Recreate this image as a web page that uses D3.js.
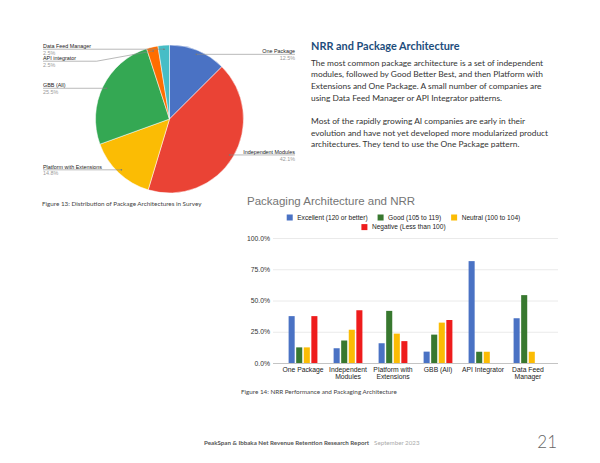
<!DOCTYPE html>
<html lang="en">
  <head>
    <meta charset="UTF-8" />
    <title>Package Architecture and NRR</title>
    <script src="https://cdn.jsdelivr.net/npm/d3@7/dist/d3.min.js"></script>
    <style>
      body { margin: 0; background: #fff; }
    </style>
  </head>
  <body>
    <script>
      // pie: distribution of package architectures
      const pieLabels = ["One Package", "Independent Modules", "Platform with Extensions", "GBB (All)", "API integrator", "Data Feed Manager"];
      const pieValues = [12.5, 42.1, 14.8, 25.5, 2.5, 2.5];

      // bars: NRR by architecture
      const categories = ["One Package", "Independent Modules", "Platform with Extensions", "GBB (All)", "API Integrator", "Data Feed Manager"];
      const seriesNames = ["Excellent (120 or better)", "Good (105 to 119)", "Neutral (100 to 104)", "Negative (Less than 100)"];
      const excellent = [37.5, 11.8, 15.8, 9.1, 81.5, 35.8];
      const good = [12.5, 18.0, 41.7, 22.7, 9.0, 54.3];
      const neutral = [12.5, 26.6, 23.5, 32.3, 9.0, 9.0];
      const negative = [37.5, 42.2, 17.5, 34.4, 0, 0];
      const yTicks = [0, 25, 50, 75, 100];

      const paragraphs = [
        ["The most common package architecture is a set of independent",
         "modules, followed by Good Better Best, and then Platform with",
         "Extensions and One Package. A small number of companies are",
         "using Data Feed Manager or API Integrator patterns."],
        ["Most of the rapidly growing AI companies are early in their",
         "evolution and have not yet developed more modularized product",
         "architectures. They tend to use the One Package pattern."]
      ];

      const width = 600;
      const height = 463;
      const svg = d3.select("body").append("svg")
        .attr("width", width)
        .attr("height", height);

      // ---------- pie ----------
      const pieColor = d3.scaleOrdinal()
        .domain(pieLabels)
        .range(["#4a72c4", "#ea4335", "#fbbc04", "#34a853", "#ff6d01", "#46bdc6"]);
      const cx = 169.5, cy = 119, R = 74;
      const pie = d3.pie().sort(null).value(d => d.v);
      const arcs = pie(pieLabels.map((l, i) => ({ l, v: pieValues[i] })));
      const arc = d3.arc().innerRadius(0).outerRadius(R);
      const anchorArc = d3.arc().innerRadius(70).outerRadius(70);

      const pieG = svg.append("g").attr("transform", `translate(${cx},${cy})`);
      pieG.selectAll("path").data(arcs).enter().append("path")
        .attr("d", arc)
        .attr("fill", d => pieColor(d.data.l))
        .attr("stroke", "#fff")
        .attr("stroke-width", 0.5);

      // label layout: left / right columns, line at anchor height, pushed apart
      const labels = arcs.map(d => {
        const [ax, ay] = anchorArc.centroid(d);
        const mid = (d.startAngle + d.endAngle) / 2;
        return { d, ax: ax + cx, ay: ay + cy, side: mid > Math.PI ? "left" : "right", ly: ay + cy };
      });
      ["left", "right"].forEach(side => {
        const col = labels.filter(l => l.side === side).sort((a, b) => a.ay - b.ay);
        for (let i = 1; i < col.length; i++) {
          if (col[i].ly - col[i - 1].ly < 12) col[i].ly = col[i - 1].ly + 12;
        }
      });

      const lab = svg.append("g").attr("font-family", "Liberation Sans, Arial, sans-serif");
      labels.forEach(l => {
        const tx = l.side === "left" ? 43 : 295;
        const kneeX = l.side === "left"
          ? l.ax - 5.5 * Math.abs(l.ly - l.ay)
          : l.ax + 5.5 * Math.abs(l.ly - l.ay);
        lab.append("path")
          .attr("d", d3.line()([[tx, l.ly], [kneeX, l.ly], [l.ax, l.ay]]))
          .attr("fill", "none")
          .attr("stroke", "#8a8a8a")
          .attr("stroke-width", 0.6);
        lab.append("circle")
          .attr("cx", l.ax).attr("cy", l.ay).attr("r", 0.8)
          .attr("fill", "#777");
        const anchor = l.side === "left" ? "start" : "end";
        lab.append("text")
          .attr("x", tx).attr("y", l.ly - 1.3)
          .attr("text-anchor", anchor)
          .attr("font-size", 5.4)
          .attr("fill", "#222")
          .text(l.d.data.l);
        lab.append("text")
          .attr("x", tx).attr("y", l.ly + 5.6)
          .attr("text-anchor", anchor)
          .attr("font-size", 5.4)
          .attr("fill", "#9a9a9a")
          .text(d3.format(".1f")(l.d.data.v) + "%");
      });

      // ---------- text block ----------
      svg.append("text")
        .attr("x", 311).attr("y", 50)
        .attr("font-family", "Lato, sans-serif")
        .attr("font-weight", "bold")
        .attr("font-size", 10.9)
        .attr("fill", "#1d4d7c")
        .text("NRR and Package Architecture");

      let py = 65.5;
      paragraphs.forEach((p, pi) => {
        p.forEach(line => {
          svg.append("text")
            .attr("x", 311).attr("y", py)
            .attr("font-family", "Lato, sans-serif")
            .attr("font-size", 8.4)
            .attr("fill", "#333")
            .text(line);
          py += 11.7;
        });
        py += 11.7;
      });

      // captions + footer
      const caption = (x, y, t) => svg.append("text")
        .attr("x", x).attr("y", y)
        .attr("font-family", "Lato, sans-serif")
        .attr("font-size", 6.3)
        .attr("fill", "#444")
        .text(t);
      caption(42, 205.5, "Figure 13: Distribution of Package Architectures in Survey");
      caption(241, 393.5, "Figure 14: NRR Performance and Packaging Architecture");

      const foot = svg.append("text")
        .attr("x", 204).attr("y", 445)
        .attr("font-family", "Lato, sans-serif")
        .attr("font-size", 6.2);
      foot.append("tspan").attr("font-weight", "bold").attr("fill", "#555")
        .text("PeakSpan & Ibbaka Net Revenue Retention Research Report");
      foot.append("tspan").attr("fill", "#aaa").attr("dx", 5).text("September 2023");
      svg.append("text")
        .attr("x", 557).attr("y", 448)
        .attr("text-anchor", "end")
        .attr("font-family", "Lato, sans-serif")
        .attr("font-weight", 300)
        .attr("font-size", 17)
        .attr("fill", "#666")
        .text("21");

      // ---------- grouped bars ----------
      const series = [excellent, good, neutral, negative];
      const barColor = d3.scaleOrdinal()
        .domain(seriesNames)
        .range(["#4a72c4", "#38782f", "#fbbc04", "#ee1c1c"]);

      const x0 = d3.scaleBand().domain(categories).range([273, 558])
        .paddingInner(0.36).paddingOuter(0.347);
      const x1 = d3.scaleBand().domain(seriesNames).range([0, x0.bandwidth()])
        .paddingInner(0.2);
      const y = d3.scaleLinear().domain([0, 100]).range([363, 238]);

      const font = "Liberation Sans, Arial, sans-serif";

      svg.append("text")
        .attr("x", 247).attr("y", 205)
        .attr("font-family", font)
        .attr("font-size", 11.5)
        .attr("fill", "#757575")
        .text("Packaging Architecture and NRR");

      // grid + y axis
      const yAxis = d3.axisLeft(y).tickValues(yTicks)
        .tickSize(-(558 - 273))
        .tickFormat(d => d3.format(".1f")(d) + "%");
      const ya = svg.append("g").attr("transform", "translate(273,0)").call(yAxis);
      ya.select(".domain").remove();
      ya.selectAll(".tick line")
        .attr("stroke", d => d === 0 ? "#b5b5b5" : "#e4e4e4")
        .attr("stroke-width", 0.8);
      ya.selectAll(".tick text")
        .attr("x", -3)
        .attr("font-family", font)
        .attr("font-size", 6.8)
        .attr("fill", "#333");

      const groups = svg.append("g").selectAll("g")
        .data(categories).enter().append("g")
        .attr("transform", d => `translate(${x0(d)},0)`);
      groups.selectAll("rect")
        .data((c, ci) => seriesNames.map((s, si) => ({ s, v: series[si][ci] })))
        .enter().append("rect")
        .attr("x", d => x1(d.s))
        .attr("y", d => y(d.v))
        .attr("width", x1.bandwidth())
        .attr("height", d => y(0) - y(d.v))
        .attr("fill", d => barColor(d.s));

      // category labels, wrapped
      const xa = svg.append("g").attr("font-family", font).attr("font-size", 6.8).attr("fill", "#222");
      categories.forEach(c => {
        const t = xa.append("text")
          .attr("x", x0(c) + x0.bandwidth() / 2)
          .attr("y", 372)
          .attr("text-anchor", "middle");
        const words = c.split(" ");
        let line = [];
        let tspan = t.append("tspan").attr("x", x0(c) + x0.bandwidth() / 2);
        words.forEach(w => {
          line.push(w);
          tspan.text(line.join(" "));
          if (tspan.node().getComputedTextLength() > 46 && line.length > 1) {
            line.pop();
            tspan.text(line.join(" "));
            line = [w];
            tspan = t.append("tspan")
              .attr("x", x0(c) + x0.bandwidth() / 2)
              .attr("dy", 6.8)
              .text(w);
          }
        });
      });

      // legend, centered rows
      const leg = svg.append("g").attr("font-family", font).attr("font-size", 6.6).attr("fill", "#222");
      const items = seriesNames.map(s => {
        const g = leg.append("g");
        g.append("rect").attr("width", 6).attr("height", 6).attr("y", -5).attr("fill", barColor(s));
        const tx = g.append("text").attr("x", 10.5).text(s);
        return { g, w: 10.5 + tx.node().getComputedTextLength() };
      });
      const rows = [[]];
      let rw = 0;
      items.forEach(it => {
        if (rw + it.w > 260 && rows[rows.length - 1].length) { rows.push([]); rw = 0; }
        rows[rows.length - 1].push(it);
        rw += it.w + 10;
      });
      rows.forEach((r, ri) => {
        const total = d3.sum(r, it => it.w) + 10 * (r.length - 1);
        let lx = 403.5 - total / 2;
        r.forEach(it => {
          it.g.attr("transform", `translate(${lx},${219.5 + ri * 9.6})`);
          lx += it.w + 10;
        });
      });
    </script>
  </body>
</html>
